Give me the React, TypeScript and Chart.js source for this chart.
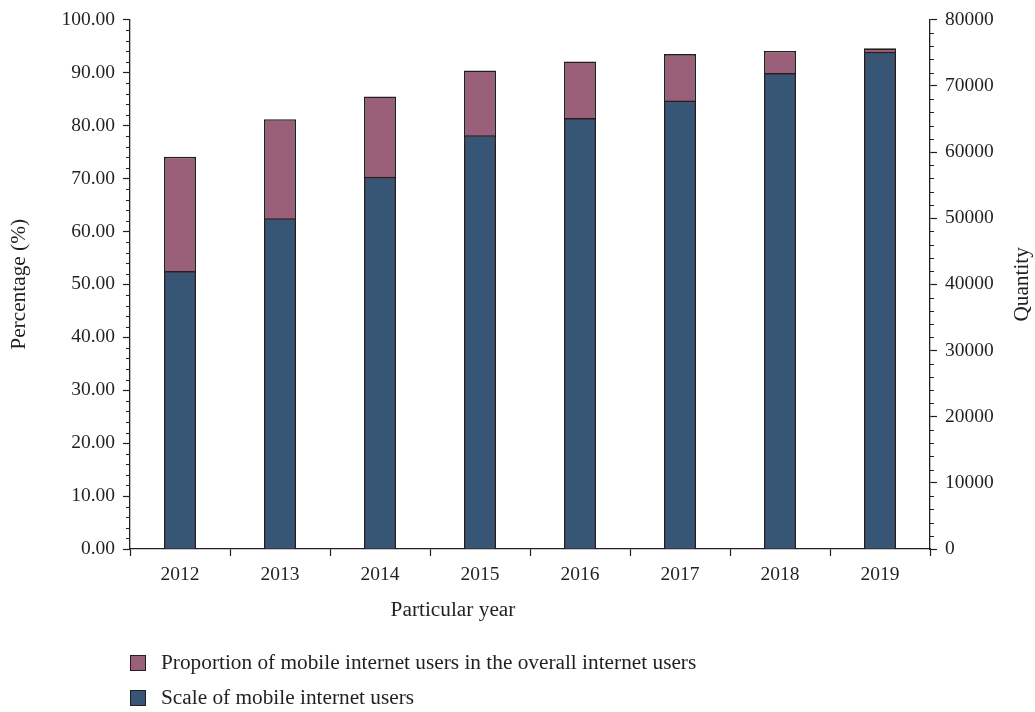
import React, { useEffect, useRef } from 'react';
import { Chart, registerables } from 'chart.js';

Chart.register(...registerables);

// ---- data ----
const years = ['2012', '2013', '2014', '2015', '2016', '2017', '2018', '2019'];
const proportionPct = [74.1, 81.2, 85.5, 90.4, 92.1, 93.5, 94.1, 94.6];
const scaleQty = [42000, 50000, 56250, 62550, 65130, 67780, 71940, 75140];
const proportionLabel = 'Proportion of mobile internet users in the overall internet users';
const scaleLabel = 'Scale of mobile internet users';
const leftTitle = 'Percentage (%)';
const rightTitle = 'Quantity';
const bottomTitle = 'Particular year';

// ---- styles ----
const INK = '#231f20';
const PINK = '#9a6079';
const BLUE = '#375574';
const FAMILY = '"Liberation Serif", "Times New Roman", serif';
const FONT_SIZE = 19.5;
const TEXT_SIZE = 21.3;

const decorPlugin = {
  id: 'decor',
  afterDraw(chart: any) {
    const ctx = chart.ctx as CanvasRenderingContext2D;
    const { left, right, top, bottom } = chart.chartArea;
    const yl = chart.scales.y;
    const yr = chart.scales.y1;
    ctx.save();
    // minor ticks
    ctx.strokeStyle = INK;
    ctx.lineWidth = 1.2;
    ctx.beginPath();
    for (let v = 0; v <= 100; v += 2) {
      if (v % 10 === 0) continue;
      const p = Math.round(yl.getPixelForValue(v)) + 0.5;
      ctx.moveTo(left - 4, p);
      ctx.lineTo(left, p);
    }
    for (let v = 0; v <= 80000; v += 2000) {
      if (v % 10000 === 0) continue;
      const p = Math.round(yr.getPixelForValue(v)) + 0.5;
      ctx.moveTo(right, p);
      ctx.lineTo(right + 4, p);
    }
    ctx.stroke();

    // axis titles
    ctx.fillStyle = INK;
    ctx.font = `${TEXT_SIZE}px ${FAMILY}`;
    const midY = (top + bottom) / 2;
    ctx.textAlign = 'center';
    ctx.textBaseline = 'middle';
    ctx.save();
    ctx.translate(19.5, midY);
    ctx.rotate(-Math.PI / 2);
    ctx.fillText(leftTitle, 0, 0);
    ctx.restore();
    ctx.save();
    ctx.translate(1022, midY);
    ctx.rotate(-Math.PI / 2);
    ctx.fillText(rightTitle, 0, 0);
    ctx.restore();
    ctx.textBaseline = 'alphabetic';
    ctx.fillText(bottomTitle, 453, 616);

    // legend
    const ds = chart.data.datasets;
    ctx.textAlign = 'left';
    const rows = [655, 690];
    ds.forEach((d: any, i: number) => {
      const y0 = rows[i];
      ctx.fillStyle = d.backgroundColor;
      ctx.fillRect(130, y0, 16, 16);
      ctx.strokeStyle = INK;
      ctx.lineWidth = 1;
      ctx.strokeRect(130.5, y0 + 0.5, 15, 15);
      ctx.fillStyle = INK;
      ctx.fillText(d.label, 161, y0 + 14);
    });
    ctx.restore();
  },
};

export default function App() {
  const canvasRef = useRef<HTMLCanvasElement | null>(null);

  useEffect(() => {
    const canvas = canvasRef.current;
    if (!canvas) return;
    const tickFont = { family: FAMILY, size: FONT_SIZE };
    const chart = new Chart(canvas, {
      type: 'bar',
      data: {
        labels: years,
        datasets: [
          {
            label: proportionLabel,
            data: proportionPct,
            yAxisID: 'y',
            backgroundColor: PINK,
            borderColor: INK,
            borderWidth: 1.6,
            grouped: false,
            order: 1,
            barPercentage: 0.32,
            categoryPercentage: 1,
          } as any,
          {
            label: scaleLabel,
            data: scaleQty,
            yAxisID: 'y1',
            backgroundColor: BLUE,
            borderColor: INK,
            borderWidth: 1.6,
            grouped: false,
            order: 0,
            barPercentage: 0.32,
            categoryPercentage: 1,
          } as any,
        ],
      },
      options: {
        responsive: false,
        animation: false,
        devicePixelRatio: 1,
        layout: { padding: { top: 15, bottom: 123, left: 0, right: 0 } },
        plugins: { legend: { display: false }, tooltip: { enabled: false } },
        scales: {
          x: {
            type: 'category',
            offset: true,
            grid: {
              offset: true,
              drawOnChartArea: false,
              drawTicks: true,
              tickLength: 7,
              tickColor: INK,
              tickWidth: 1.2,
            },
            border: { display: true, color: INK, width: 1.3 },
            ticks: { color: INK, font: tickFont, padding: 7, maxRotation: 0 },
            afterFit: (s: any) => { s.height = 40; },
          },
          y: {
            type: 'linear',
            position: 'left',
            min: 0,
            max: 100,
            ticks: {
              stepSize: 10,
              color: INK,
              font: tickFont,
              padding: 8,
              callback: (v: any) => Number(v).toFixed(2),
            },
            grid: {
              drawOnChartArea: false,
              drawTicks: true,
              tickLength: 7,
              tickColor: INK,
              tickWidth: 1.2,
            },
            border: { display: true, color: INK, width: 1.3 },
            afterFit: (s: any) => { s.width = 130; },
          },
          y1: {
            type: 'linear',
            position: 'right',
            min: 0,
            max: 80000,
            ticks: {
              stepSize: 10000,
              color: INK,
              font: tickFont,
              padding: 8,
              callback: (v: any) => String(v),
            },
            grid: {
              drawOnChartArea: false,
              drawTicks: true,
              tickLength: 7,
              tickColor: INK,
              tickWidth: 1.2,
            },
            border: { display: true, color: INK, width: 1.3 },
            afterFit: (s: any) => { s.width = 105; },
          },
        },
      } as any,
      plugins: [decorPlugin],
    });
    return () => chart.destroy();
  }, []);

  return (
    <div style={{ position: 'fixed', left: 0, top: 0, width: 1035, height: 712, background: '#fff' }}>
      <canvas ref={canvasRef} width={1035} height={712} style={{ display: 'block' }} />
    </div>
  );
}
